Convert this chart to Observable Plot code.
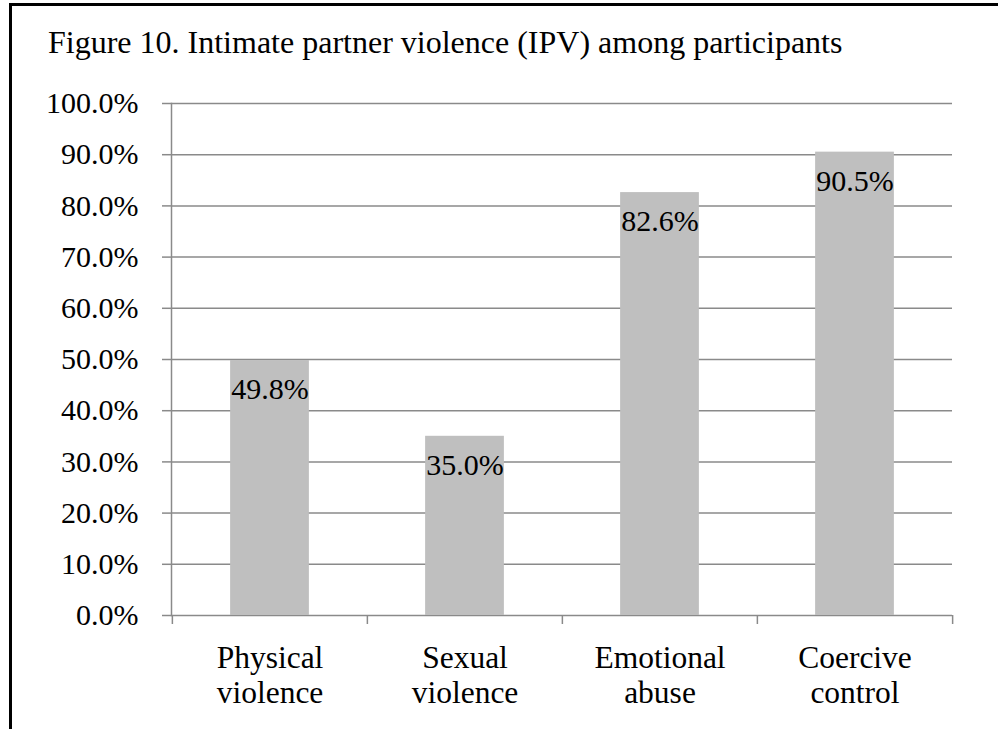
<!DOCTYPE html>
<html>
<head>
<meta charset="utf-8">
<script src="https://cdn.jsdelivr.net/npm/d3@7"></script>
<script src="https://cdn.jsdelivr.net/npm/@observablehq/plot@0.6"></script>
<style>
  html, body { margin: 0; padding: 0; background: #fff; }
  #wrap { position: relative; width: 998px; height: 729px; overflow: hidden; font-family: "Liberation Serif", "Times New Roman", serif; }
  #box { position: absolute; left: 9px; top: 3px; width: 1000px; height: 800px; border-left: 3px solid #000; border-top: 3px solid #000; }
  #title { position: absolute; left: 48px; top: 26px; font-size: 32px; line-height: 1; color: #000; white-space: nowrap; }
  #chart { position: absolute; left: 0; top: 0; }
  #chart svg text { font-family: "Liberation Serif", "Times New Roman", serif; }
</style>
</head>
<body>
<div id="wrap">
  <div id="box"></div>
  <div id="title">Figure 10. Intimate partner violence (IPV) among participants</div>
  <div id="chart"></div>
</div>
<script>
// IPV categories and the share of participants reporting each (%)
const categories = ["Physical violence", "Sexual violence", "Emotional abuse", "Coercive control"];
const categoryLabels = ["Physical\nviolence", "Sexual\nviolence", "Emotional\nabuse", "Coercive\ncontrol"];
const percentages = [49.8, 35.0, 82.6, 90.5];
const yTicks = [0, 10, 20, 30, 40, 50, 60, 70, 80, 90, 100];

const rows = categories.map((c, i) => ({category: c, label: categoryLabels[i], value: percentages[i]}));

const width = 998, height = 729;
const marginLeft = 171, marginRight = 46, marginTop = 103, marginBottom = 114;
const band = (width - marginLeft - marginRight) / categories.length;
const barWidth = 79;
const inset = (band - barWidth) / 2;
const gray = "#8a8a8a";
const serif = "'Liberation Serif', 'Times New Roman', serif";

const chart = Plot.plot({
  width, height, marginLeft, marginRight, marginTop, marginBottom,
  style: {fontFamily: serif, fontSize: "30px", color: "#000", background: "transparent"},
  x: {domain: categories, padding: 0, axis: null},
  y: {domain: [0, 100], axis: null},
  marks: [
    // horizontal gridlines
    Plot.ruleY(yTicks, {stroke: gray, strokeWidth: 1.5}),
    // vertical axis line
    Plot.frame({anchor: "left", stroke: gray, strokeWidth: 1.5}),
    // y ticks and percentage labels
    Plot.axisY(yTicks, {
      tickSize: 9, tickPadding: 24, stroke: gray, strokeWidth: 1.5,
      tickFormat: d => d.toFixed(1) + "%", fill: "#000", fontSize: 30, fontFamily: serif, label: null
    }),
    // category boundary ticks below the baseline
    Plot.axisX(categories, {tickSize: 9, stroke: gray, strokeWidth: 1.5, text: null, dx: -band / 2, label: null}),
    Plot.axisX(categories.slice(-1), {tickSize: 9, stroke: gray, strokeWidth: 1.5, text: null, dx: band / 2, label: null}),
    // bars
    Plot.barY(rows, {x: "category", y: "value", fill: "#bfbfbf", insetLeft: inset, insetRight: inset}),
    // value labels inside the bar tops
    Plot.text(rows, {
      x: "category", y: "value", text: d => d.value.toFixed(1) + "%",
      dy: 29, lineAnchor: "middle", fill: "#000", fontSize: 30, fontFamily: serif
    }),
    // two-line category labels
    Plot.text(rows, {
      x: "category", y: 0, text: "label", lineAnchor: "top", lineHeight: 35 / 31.5,
      dy: 28, fill: "#000", fontSize: 31.5, fontFamily: serif
    })
  ]
});

document.getElementById("chart").appendChild(chart);
</script>
</body>
</html>
